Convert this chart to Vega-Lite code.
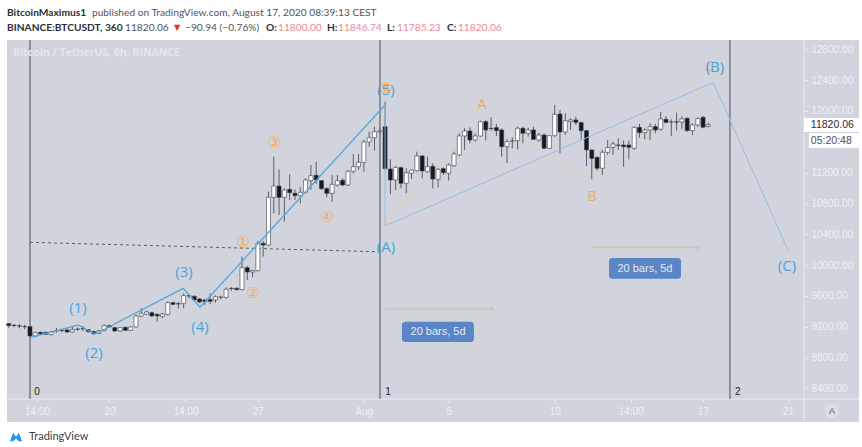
{
"$schema":"https://vega.github.io/schema/vega-lite/v6.json",
"width":852,"height":382,
"autosize":{"type":"none"},
"padding":{"left":7,"top":40,"right":3,"bottom":25},
"background":"#ffffff",
"view":{"fill":"#d1d4dc","stroke":null},
"datasets":{"candles":[
{"t":"2020-07-15T06:00Z","o":9240,"h":9245,"l":9188,"c":9214},
{"t":"2020-07-15T12:00Z","o":9220,"h":9235,"l":9192,"c":9216},
{"t":"2020-07-15T18:00Z","o":9212,"h":9235,"l":9179,"c":9208},
{"t":"2020-07-16T00:00Z","o":9203,"h":9227,"l":9166,"c":9199},
{"t":"2020-07-16T06:00Z","o":9201,"h":9210,"l":9071,"c":9080},
{"t":"2020-07-16T12:00Z","o":9080,"h":9136,"l":9063,"c":9123},
{"t":"2020-07-16T18:00Z","o":9127,"h":9136,"l":9097,"c":9106},
{"t":"2020-07-17T00:00Z","o":9127,"h":9136,"l":9095,"c":9101},
{"t":"2020-07-17T06:00Z","o":9097,"h":9145,"l":9088,"c":9132},
{"t":"2020-07-17T12:00Z","o":9145,"h":9184,"l":9123,"c":9150},
{"t":"2020-07-17T18:00Z","o":9153,"h":9171,"l":9127,"c":9149},
{"t":"2020-07-18T00:00Z","o":9158,"h":9171,"l":9123,"c":9132},
{"t":"2020-07-18T06:00Z","o":9132,"h":9201,"l":9123,"c":9162},
{"t":"2020-07-18T12:00Z","o":9166,"h":9188,"l":9149,"c":9170},
{"t":"2020-07-18T18:00Z","o":9175,"h":9210,"l":9145,"c":9171},
{"t":"2020-07-19T00:00Z","o":9162,"h":9171,"l":9123,"c":9136},
{"t":"2020-07-19T06:00Z","o":9136,"h":9149,"l":9093,"c":9110},
{"t":"2020-07-19T12:00Z","o":9114,"h":9158,"l":9106,"c":9149},
{"t":"2020-07-19T18:00Z","o":9149,"h":9231,"l":9140,"c":9214},
{"t":"2020-07-20T00:00Z","o":9214,"h":9227,"l":9188,"c":9197},
{"t":"2020-07-20T06:00Z","o":9188,"h":9197,"l":9132,"c":9145},
{"t":"2020-07-20T12:00Z","o":9145,"h":9197,"l":9136,"c":9188},
{"t":"2020-07-20T18:00Z","o":9192,"h":9201,"l":9145,"c":9153},
{"t":"2020-07-21T00:00Z","o":9153,"h":9210,"l":9145,"c":9197},
{"t":"2020-07-21T06:00Z","o":9197,"h":9357,"l":9188,"c":9339},
{"t":"2020-07-21T12:00Z","o":9339,"h":9439,"l":9322,"c":9374},
{"t":"2020-07-21T18:00Z","o":9361,"h":9408,"l":9352,"c":9391},
{"t":"2020-07-22T00:00Z","o":9382,"h":9395,"l":9326,"c":9339},
{"t":"2020-07-22T06:00Z","o":9361,"h":9374,"l":9266,"c":9339},
{"t":"2020-07-22T12:00Z","o":9331,"h":9378,"l":9313,"c":9365},
{"t":"2020-07-22T18:00Z","o":9361,"h":9529,"l":9348,"c":9512},
{"t":"2020-07-23T00:00Z","o":9512,"h":9525,"l":9477,"c":9490},
{"t":"2020-07-23T06:00Z","o":9499,"h":9521,"l":9434,"c":9495},
{"t":"2020-07-23T12:00Z","o":9503,"h":9633,"l":9439,"c":9603},
{"t":"2020-07-23T18:00Z","o":9603,"h":9620,"l":9568,"c":9598},
{"t":"2020-07-24T00:00Z","o":9594,"h":9607,"l":9538,"c":9547},
{"t":"2020-07-24T06:00Z","o":9560,"h":9572,"l":9508,"c":9521},
{"t":"2020-07-24T12:00Z","o":9547,"h":9560,"l":9482,"c":9525},
{"t":"2020-07-24T18:00Z","o":9551,"h":9633,"l":9495,"c":9529},
{"t":"2020-07-25T00:00Z","o":9547,"h":9607,"l":9512,"c":9590},
{"t":"2020-07-25T06:00Z","o":9581,"h":9603,"l":9555,"c":9585},
{"t":"2020-07-25T12:00Z","o":9581,"h":9711,"l":9564,"c":9685},
{"t":"2020-07-25T18:00Z","o":9698,"h":9715,"l":9668,"c":9694},
{"t":"2020-07-26T00:00Z","o":9698,"h":9711,"l":9668,"c":9681},
{"t":"2020-07-26T06:00Z","o":9681,"h":10109,"l":9672,"c":9966},
{"t":"2020-07-26T12:00Z","o":9966,"h":9988,"l":9806,"c":9910},
{"t":"2020-07-26T18:00Z","o":9910,"h":9936,"l":9841,"c":9927},
{"t":"2020-07-27T00:00Z","o":9927,"h":10312,"l":9918,"c":10282},
{"t":"2020-07-27T06:00Z","o":10282,"h":10312,"l":10109,"c":10260},
{"t":"2020-07-27T12:00Z","o":10260,"h":10952,"l":10247,"c":10878},
{"t":"2020-07-27T18:00Z","o":10878,"h":11406,"l":10671,"c":11025},
{"t":"2020-07-28T00:00Z","o":11025,"h":11241,"l":10649,"c":10878},
{"t":"2020-07-28T06:00Z","o":10878,"h":10995,"l":10563,"c":10973},
{"t":"2020-07-28T12:00Z","o":10982,"h":11177,"l":10844,"c":10939},
{"t":"2020-07-28T18:00Z","o":10930,"h":10982,"l":10844,"c":10900},
{"t":"2020-07-29T00:00Z","o":10900,"h":11008,"l":10800,"c":10943},
{"t":"2020-07-29T06:00Z","o":10943,"h":11125,"l":10930,"c":11103},
{"t":"2020-07-29T12:00Z","o":11095,"h":11298,"l":10973,"c":11159},
{"t":"2020-07-29T18:00Z","o":11164,"h":11341,"l":11051,"c":11103},
{"t":"2020-07-30T00:00Z","o":11095,"h":11103,"l":10973,"c":10991},
{"t":"2020-07-30T06:00Z","o":10991,"h":11008,"l":10878,"c":10930},
{"t":"2020-07-30T12:00Z","o":10930,"h":11168,"l":10822,"c":11047},
{"t":"2020-07-30T18:00Z","o":11038,"h":11168,"l":11017,"c":11095},
{"t":"2020-07-31T00:00Z","o":11099,"h":11125,"l":11025,"c":11038},
{"t":"2020-07-31T06:00Z","o":11038,"h":11233,"l":11025,"c":11216},
{"t":"2020-07-31T12:00Z","o":11216,"h":11440,"l":11190,"c":11276},
{"t":"2020-07-31T18:00Z","o":11276,"h":11440,"l":11233,"c":11332},
{"t":"2020-08-01T00:00Z","o":11332,"h":11622,"l":11211,"c":11596},
{"t":"2020-08-01T06:00Z","o":11596,"h":11730,"l":11535,"c":11652},
{"t":"2020-08-01T12:00Z","o":11652,"h":11795,"l":11484,"c":11730},
{"t":"2020-08-01T18:00Z","o":11728,"h":11770,"l":11710,"c":11740},
{"t":"2020-08-02T00:00Z","o":11795,"h":12119,"l":11233,"c":11250},
{"t":"2020-08-02T06:00Z","o":11246,"h":11371,"l":10918,"c":11103},
{"t":"2020-08-02T12:00Z","o":11103,"h":11285,"l":10974,"c":11268},
{"t":"2020-08-02T18:00Z","o":11263,"h":11276,"l":10995,"c":11060},
{"t":"2020-08-03T00:00Z","o":11060,"h":11255,"l":10930,"c":11198},
{"t":"2020-08-03T06:00Z","o":11190,"h":11242,"l":11116,"c":11233},
{"t":"2020-08-03T12:00Z","o":11224,"h":11471,"l":11211,"c":11415},
{"t":"2020-08-03T18:00Z","o":11415,"h":11428,"l":11125,"c":11220},
{"t":"2020-08-04T00:00Z","o":11211,"h":11406,"l":11198,"c":11276},
{"t":"2020-08-04T06:00Z","o":11281,"h":11320,"l":10995,"c":11116},
{"t":"2020-08-04T12:00Z","o":11112,"h":11255,"l":11008,"c":11242},
{"t":"2020-08-04T18:00Z","o":11250,"h":11268,"l":11168,"c":11198},
{"t":"2020-08-05T00:00Z","o":11190,"h":11320,"l":11095,"c":11298},
{"t":"2020-08-05T06:00Z","o":11289,"h":11471,"l":11276,"c":11441},
{"t":"2020-08-05T12:00Z","o":11428,"h":11709,"l":11415,"c":11674},
{"t":"2020-08-05T18:00Z","o":11674,"h":11774,"l":11493,"c":11739},
{"t":"2020-08-06T00:00Z","o":11739,"h":11786,"l":11579,"c":11622},
{"t":"2020-08-06T06:00Z","o":11622,"h":11709,"l":11601,"c":11674},
{"t":"2020-08-06T12:00Z","o":11674,"h":11873,"l":11665,"c":11860},
{"t":"2020-08-06T18:00Z","o":11860,"h":11882,"l":11614,"c":11752},
{"t":"2020-08-07T00:00Z","o":11774,"h":11916,"l":11743,"c":11770},
{"t":"2020-08-07T06:00Z","o":11782,"h":11830,"l":11674,"c":11743},
{"t":"2020-08-07T12:00Z","o":11752,"h":11774,"l":11406,"c":11536},
{"t":"2020-08-07T18:00Z","o":11536,"h":11631,"l":11320,"c":11601},
{"t":"2020-08-08T00:00Z","o":11606,"h":11657,"l":11514,"c":11610},
{"t":"2020-08-08T06:00Z","o":11614,"h":11795,"l":11501,"c":11774},
{"t":"2020-08-08T12:00Z","o":11774,"h":11795,"l":11579,"c":11709},
{"t":"2020-08-08T18:00Z","o":11709,"h":11782,"l":11665,"c":11752},
{"t":"2020-08-09T00:00Z","o":11752,"h":11795,"l":11622,"c":11631},
{"t":"2020-08-09T06:00Z","o":11622,"h":11717,"l":11601,"c":11687},
{"t":"2020-08-09T12:00Z","o":11687,"h":11709,"l":11506,"c":11514},
{"t":"2020-08-09T18:00Z","o":11514,"h":11687,"l":11506,"c":11678},
{"t":"2020-08-10T00:00Z","o":11678,"h":12076,"l":11665,"c":11955},
{"t":"2020-08-10T06:00Z","o":11959,"h":12011,"l":11449,"c":11726},
{"t":"2020-08-10T12:00Z","o":11726,"h":11968,"l":11687,"c":11873},
{"t":"2020-08-10T18:00Z","o":11860,"h":11903,"l":11752,"c":11882},
{"t":"2020-08-11T00:00Z","o":11882,"h":11925,"l":11817,"c":11851},
{"t":"2020-08-11T06:00Z","o":11847,"h":11860,"l":11631,"c":11743},
{"t":"2020-08-11T12:00Z","o":11743,"h":11752,"l":11285,"c":11493},
{"t":"2020-08-11T18:00Z","o":11493,"h":11501,"l":11112,"c":11384},
{"t":"2020-08-12T00:00Z","o":11397,"h":11406,"l":11224,"c":11255},
{"t":"2020-08-12T06:00Z","o":11255,"h":11493,"l":11168,"c":11462},
{"t":"2020-08-12T12:00Z","o":11462,"h":11622,"l":11428,"c":11523},
{"t":"2020-08-12T18:00Z","o":11527,"h":11601,"l":11428,"c":11570},
{"t":"2020-08-13T00:00Z","o":11557,"h":11644,"l":11493,"c":11553},
{"t":"2020-08-13T06:00Z","o":11557,"h":11614,"l":11276,"c":11536},
{"t":"2020-08-13T12:00Z","o":11557,"h":11614,"l":11371,"c":11527},
{"t":"2020-08-13T18:00Z","o":11514,"h":11795,"l":11493,"c":11786},
{"t":"2020-08-14T00:00Z","o":11786,"h":11830,"l":11652,"c":11717},
{"t":"2020-08-14T06:00Z","o":11717,"h":11774,"l":11631,"c":11752},
{"t":"2020-08-14T12:00Z","o":11752,"h":11838,"l":11622,"c":11795},
{"t":"2020-08-14T18:00Z","o":11795,"h":11830,"l":11709,"c":11752},
{"t":"2020-08-15T00:00Z","o":11761,"h":11985,"l":11743,"c":11895},
{"t":"2020-08-15T06:00Z","o":11890,"h":11933,"l":11838,"c":11851},
{"t":"2020-08-15T12:00Z","o":11856,"h":11890,"l":11674,"c":11856},
{"t":"2020-08-15T18:00Z","o":11858,"h":11977,"l":11743,"c":11854},
{"t":"2020-08-16T00:00Z","o":11856,"h":11933,"l":11765,"c":11895},
{"t":"2020-08-16T06:00Z","o":11903,"h":11916,"l":11730,"c":11743},
{"t":"2020-08-16T12:00Z","o":11743,"h":11838,"l":11687,"c":11817},
{"t":"2020-08-16T18:00Z","o":11817,"h":11916,"l":11795,"c":11899},
{"t":"2020-08-17T00:00Z","o":11916,"h":11933,"l":11774,"c":11787},
{"t":"2020-08-17T06:00Z","o":11800,"h":11847,"l":11785,"c":11820}
]},
"encoding":{
"x":{"field":"t","type":"temporal","title":null,
 "scale":{"type":"utc","padding":0,"domain":[{"year":2020,"month":7,"date":15,"hours":4,"utc":true},{"year":2020,"month":8,"date":24,"hours":8,"minutes":30,"utc":true}]},
 "axis":{"orient":"bottom","offset":-23,"domain":false,"grid":false,"tickColor":"#eceef2","tickSize":3,"labelColor":"#eef0f4","labelFont":"Liberation Sans","labelFontSize":10,"labelPadding":4,"labelOverlap":false,"labelFlush":false,
  "values":[{"year":2020,"month":7,"date":16,"hours":14,"utc":true},{"year":2020,"month":7,"date":20,"utc":true},{"year":2020,"month":7,"date":23,"hours":14,"utc":true},{"year":2020,"month":7,"date":27,"utc":true},{"year":2020,"month":8,"date":1,"utc":true},{"year":2020,"month":8,"date":5,"utc":true},{"year":2020,"month":8,"date":10,"utc":true},{"year":2020,"month":8,"date":13,"hours":14,"utc":true},{"year":2020,"month":8,"date":17,"utc":true},{"year":2020,"month":8,"date":21,"utc":true}],
  "labelExpr":"utchours(datum.value)==14 ? '14:00' : (utcdate(datum.value)==1 ? 'Aug' : ''+utcdate(datum.value))"}},
"y":{"field":"p","type":"quantitative","title":null,
 "scale":{"domain":[7964,12919],"nice":false,"zero":false},
 "axis":{"orient":"right","offset":-55,"domain":false,"grid":false,"tickColor":"#eceef2","tickSize":3,"labelColor":"#eef0f4","labelFont":"Liberation Sans","labelFontSize":10,"labelPadding":4,"format":".2f","labelOverlap":false,
  "values":[12800,12400,12000,11200,10800,10400,10000,9600,9200,8800,8400]}}
},
"layer":[
{"data":{"values":[{"t":"2020-08-21T18:12Z","p":7964,"p2":12919}]},"mark":{"type":"rule","color":"#e8eaef","strokeWidth":1},"encoding":{"y2":{"field":"p2"}}},
{"data":{"values":[{"t":"2020-07-15T04:00Z","p":8262},{"t":"2020-08-24T08:30Z","p":8262}]},"mark":{"type":"line","color":"#e8eaef","strokeWidth":1},"encoding":{}},
{"data":{"values":[{"t":"2020-08-02T00:00Z","p":10532},{"t":"2020-08-06T11:30Z","p":11855},{"t":"2020-08-11T19:00Z","p":11129},{"t":"2020-08-17T11:30Z","p":12370}]},"mark":{"type":"line","color":"#e3cfae","strokeWidth":1},"encoding":{}},
{"data":{"values":[{"t":"2020-07-16T06:00Z","p":8262,"p2":12919},{"t":"2020-08-01T18:12Z","p":8262,"p2":12919},{"t":"2020-08-18T06:24Z","p":8262,"p2":12919}]},"mark":{"type":"rule","color":"#5f646c","strokeWidth":1.2},"encoding":{"y2":{"field":"p2"}}},
{"data":{"values":[{"t":"2020-07-16T06:00Z","p":10295},{"t":"2020-08-01T14:00Z","p":10173}]},"mark":{"type":"line","color":"#4a4e55","strokeWidth":0.9,"strokeDash":[3,3]},"encoding":{}},
{"data":{"name":"candles"},"mark":{"type":"rule","color":"#5a5e66","strokeWidth":1},"encoding":{"y":{"field":"l","type":"quantitative"},"y2":{"field":"h"}}},
{"data":{"name":"candles"},"mark":{"type":"bar","size":4,"stroke":"#3a3e46","strokeWidth":0.6},"encoding":{"y":{"field":"o","type":"quantitative"},"y2":{"field":"c"},"color":{"condition":{"test":"datum.c>=datum.o","value":"#ffffff"},"value":"#15181f"}}},
{"data":{"values":[{"t":"2020-07-16T06:00Z","p":9058},{"t":"2020-07-18T12:40Z","p":9222},{"t":"2020-07-19T07:35Z","p":9106},{"t":"2020-07-23T11:30Z","p":9698},{"t":"2020-07-24T06:30Z","p":9452},{"t":"2020-08-02T00:00Z","p":12076}]},"mark":{"type":"line","color":"#5aa6dc","strokeWidth":1.3},"encoding":{}},
{"data":{"values":[{"i":1,"t":"2020-08-02T00:00Z","p":12076},{"i":2,"t":"2020-08-02T00:00Z","p":10506},{"i":3,"t":"2020-08-17T11:30Z","p":12370},{"i":4,"t":"2020-08-21T00:00Z","p":10195}]},"mark":{"type":"line","color":"#92bfe0","strokeWidth":1},"encoding":{"order":{"field":"i"}}},
{"data":{"values":[{"t":"2020-08-02T00:00Z","p":9434,"g":1},{"t":"2020-08-07T02:00Z","p":9434,"g":1},{"t":"2020-08-11T18:12Z","p":10230,"g":2},{"t":"2020-08-16T19:24Z","p":10230,"g":2}]},"mark":{"type":"line","color":"#b7d3bc","strokeWidth":2},"encoding":{"detail":{"field":"g"}}},
{"data":{"values":[{"t":"2020-08-07T02:00Z","p":9434},{"t":"2020-08-16T19:24Z","p":10230}]},"mark":{"type":"point","shape":"M-1,-1L0,0L-1,1","filled":false,"size":24,"stroke":"#9dbfa4","strokeWidth":1},"encoding":{}},
{"data":{"values":[{"t":"2020-08-02T19:06Z","t2":"2020-08-06T04:36Z","p":9265,"p2":9002},{"t":"2020-08-12T13:30Z","t2":"2020-08-15T23:00Z","p":10091,"p2":9823}]},"mark":{"type":"rect","color":"#5b86c6","cornerRadius":3},"encoding":{"x2":{"field":"t2"},"y2":{"field":"p2"}}},
{"data":{"values":[{"t":"2020-08-04T12:00Z","p":9132,"s":"20 bars, 5d"},{"t":"2020-08-14T06:12Z","p":9955,"s":"20 bars, 5d"}]},"mark":{"type":"text","color":"#e4e9f5","font":"Liberation Sans","fontSize":11},"encoding":{"text":{"field":"s"}}},
{"data":{"values":[{"t":"2020-08-21T18:12Z","t2":"2020-08-24T08:30Z","p":11907,"p2":11726},{"t":"2020-08-21T23:48Z","t2":"2020-08-24T08:30Z","p":11713,"p2":11518}]},"mark":{"type":"rect","color":"#ffffff"},"encoding":{"x2":{"field":"t2"},"y2":{"field":"p2"}}},
{"data":{"values":[{"t":"2020-08-22T02:00Z","p":11816,"s":"11820.06"}]},"mark":{"type":"text","align":"left","color":"#2a2e39","font":"Liberation Sans","fontSize":10.5},"encoding":{"text":{"field":"s"}}},
{"data":{"values":[{"t":"2020-08-22T02:00Z","p":11609,"s":"05:20:48"}]},"mark":{"type":"text","align":"left","color":"#4a4e58","font":"Liberation Sans","fontSize":10.5},"encoding":{"text":{"field":"s"}}},
{"data":{"values":[{"t":"2020-08-06T13:42Z","p":12076,"s":"A"},{"t":"2020-08-11T18:12Z","p":10883,"s":"B"},{"t":"2020-08-17T07:42Z","p":12569,"s":"C"}]},"mark":{"type":"text","color":"#f2ac57","font":"Open Sans","fontSize":14},"encoding":{"text":{"field":"s"}}},
{"data":{"values":[{"t":"2020-07-18T12:18Z","p":9443,"s":"(1)"},{"t":"2020-07-19T06:30Z","p":8859,"s":"(2)"},{"t":"2020-07-23T12:18Z","p":9910,"s":"(3)"},{"t":"2020-07-24T06:24Z","p":9196,"s":"(4)"},{"t":"2020-08-02T01:00Z","p":12270,"s":"(5)"},{"t":"2020-08-02T01:00Z","p":10234,"s":"(A)"},{"t":"2020-08-17T13:24Z","p":12569,"s":"(B)"},{"t":"2020-08-20T22:54Z","p":9988,"s":"(C)"}]},"mark":{"type":"text","color":"#4aa3e0","font":"Open Sans","fontSize":15},"encoding":{"text":{"field":"s"}}},
{"data":{"values":[{"t":"2020-07-26T07:00Z","p":10299,"s":"①"},{"t":"2020-07-26T18:24Z","p":9637,"s":"②"},{"t":"2020-07-27T18:12Z","p":11596,"s":"③"},{"t":"2020-07-30T06:12Z","p":10623,"s":"④"},{"t":"2020-08-02T01:00Z","p":12296,"s":"⑤"}]},"mark":{"type":"text","color":"#f2ac57","font":"DejaVu Sans","fontSize":15},"encoding":{"text":{"field":"s"}}},
{"data":{"values":[{"t":"2020-07-16T14:00Z","p":8353,"s":"0"},{"t":"2020-08-02T03:18Z","p":8353,"s":"1"},{"t":"2020-08-18T15:24Z","p":8353,"s":"2"}]},"mark":{"type":"text","color":"#23262d","font":"Liberation Sans","fontSize":10},"encoding":{"text":{"field":"s"}}},
{"data":{"values":[{"t":"2020-07-15T10:48Z","p":12750,"s":"Bitcoin / TetherUS, 6h, BINANCE"}]},"mark":{"type":"text","align":"left","color":"#e4e6ec","font":"Open Sans","fontSize":10.5,"fontWeight":700},"encoding":{"text":{"field":"s"}}},
{"data":{"values":[{"t":"2020-07-15T04:00Z","p":13269,"s":"BitcoinMaximus1"},{"t":"2020-07-15T04:00Z","p":13074,"s":"BINANCE:BTCUSDT, 360"},{"t":"2020-07-27T09:12Z","p":13074,"s":"O:"},{"t":"2020-07-30T06:12Z","p":13074,"s":"H:"},{"t":"2020-08-02T02:12Z","p":13074,"s":"L:"},{"t":"2020-08-04T22:00Z","p":13074,"s":"C:"}]},"mark":{"type":"text","align":"left","color":"#2b2f38","font":"Lato","fontSize":10.2,"fontWeight":"bold"},"encoding":{"text":{"field":"s"}}},
{"data":{"values":[{"t":"2020-07-19T04:12Z","p":13269,"s":"published on TradingView.com, August 17, 2020 08:39:13 CEST"},{"t":"2020-07-20T17:36Z","p":13074,"s":"11820.06"},{"t":"2020-07-23T13:30Z","p":13074,"s":"−90.94 (−0.76%)"}]},"mark":{"type":"text","align":"left","color":"#50545c","font":"Lato","fontSize":10.2},"encoding":{"text":{"field":"s"}}},
{"data":{"values":[{"t":"2020-07-23T01:00Z","p":13074,"s":"▼"}]},"mark":{"type":"text","align":"left","color":"#d8302f","font":"DejaVu Sans","fontSize":8},"encoding":{"text":{"field":"s"}}},
{"data":{"values":[{"t":"2020-07-27T22:48Z","p":13074,"s":"11800.00"},{"t":"2020-07-30T18:42Z","p":13074,"s":"11846.74"},{"t":"2020-08-02T13:30Z","p":13074,"s":"11785.23"},{"t":"2020-08-05T10:30Z","p":13074,"s":"11820.06"}]},"mark":{"type":"text","align":"left","color":"#ea8a94","font":"Lato","fontSize":10.2},"encoding":{"text":{"field":"s"}}},
{"data":{"values":[{"t":"2020-08-23T01:54Z","p":8107}]},"mark":{"type":"point","shape":"circle","filled":true,"size":200,"color":"#dcdee4","opacity":1},"encoding":{}},
{"data":{"values":[{"t":"2020-08-23T01:54Z","p":8107,"s":"A"}]},"mark":{"type":"text","color":"#5a5e66","font":"Liberation Sans","fontSize":9},"encoding":{"text":{"field":"s"}}},
{"data":{"values":[{"t":"2020-07-15T14:12Z","p":7770}]},"mark":{"type":"point","shape":"M-1,0.7L-0.45,-0.7L0,-0.05L0.45,-0.7L1,0.7L0.45,0.7L0,0.25L-0.45,0.7Z","filled":true,"size":150,"color":"#2196f3","opacity":1},"encoding":{}},
{"data":{"values":[{"t":"2020-07-16T04:54Z","p":7770,"s":"TradingView"}]},"mark":{"type":"text","align":"left","color":"#3c4048","font":"Lato","fontSize":11},"encoding":{"text":{"field":"s"}}}
]
}
